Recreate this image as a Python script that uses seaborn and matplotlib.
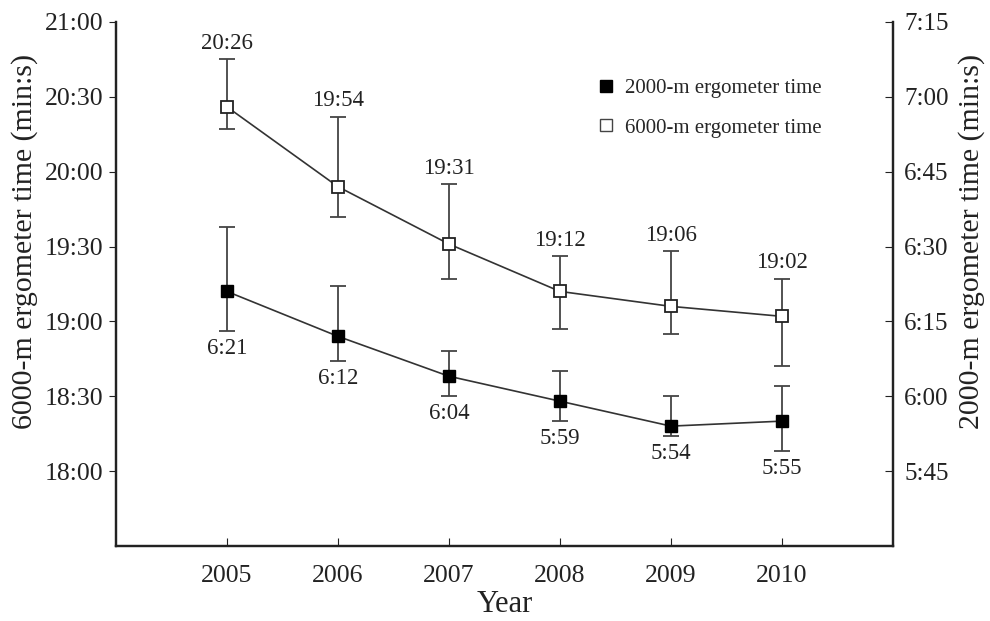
import matplotlib as mpl
import matplotlib.pyplot as plt
import seaborn as sns
import pandas as pd
from matplotlib.lines import Line2D
from matplotlib.ticker import FuncFormatter

sns.set_style("ticks")
plt.rcParams['font.family'] = ['Liberation Serif', 'DejaVu Serif']

# data (times in seconds)
years = [2005, 2006, 2007, 2008, 2009, 2010]
t6000 = [1226, 1194, 1171, 1152, 1146, 1142]
t6000_up = [19, 28, 24, 14, 22, 15]
t6000_dn = [9, 12, 14, 15, 11, 20]
t2000 = [381, 372, 364, 359, 354, 355]
t2000_up = [13, 10, 5, 6, 6, 7]
t2000_dn = [8, 5, 4, 4, 2, 6]


def mmss(s, pos=None):
    s = int(round(s))
    return f"{s // 60}:{s % 60:02d}"


df = pd.DataFrame({"year": years, "t6000": t6000, "t2000": t2000})

fig = plt.figure(figsize=(9.9, 6.21), dpi=100)
ax = fig.add_axes([0.117, 0.121, 0.785, 0.8436])
ax2 = ax.twinx()

ink = "#333333"

# 6000-m on left axis
ax.errorbar(years, t6000, yerr=[t6000_dn, t6000_up], fmt="none", ecolor="#444444",
            elinewidth=1.3, capsize=6, capthick=1.3, zorder=2)
sns.lineplot(data=df, x="year", y="t6000", ax=ax, color=ink, linewidth=1.2,
             marker="s", markersize=9, markerfacecolor="white",
             markeredgecolor="#222222", markeredgewidth=1.3, zorder=3)

# 2000-m on right axis
ax2.errorbar(years, t2000, yerr=[t2000_dn, t2000_up], fmt="none", ecolor="#444444",
             elinewidth=1.3, capsize=6, capthick=1.3, zorder=2)
sns.lineplot(data=df, x="year", y="t2000", ax=ax2, color=ink, linewidth=1.2,
             marker="s", markersize=9, markerfacecolor="black",
             markeredgecolor="black", markeredgewidth=1.0, zorder=3)

# value labels
for x, v, u in zip(years, t6000, t6000_up):
    ax.annotate(mmss(v), (x, v + u), xytext=(0, 4), textcoords="offset points",
                ha="center", va="bottom", fontsize=16.5, color="#222222")
for x, v, d in zip(years, t2000, t2000_dn):
    ax2.annotate(mmss(v), (x, v - d), xytext=(0, -5), textcoords="offset points",
                 ha="center", va="top", fontsize=16.5, color="#222222")

ax.set_xlim(2004, 2011)
ax.set_ylim(1050, 1260)
ax2.set_ylim(330, 435)
ax.set_xticks(years)
ax.set_yticks(range(1080, 1261, 30))
ax2.set_yticks(range(345, 436, 15))
ax.yaxis.set_major_formatter(FuncFormatter(mmss))
ax2.yaxis.set_major_formatter(FuncFormatter(mmss))

ax.set_xlabel("Year", fontsize=22, color="#222222", labelpad=2)
ax.set_ylabel("6000-m ergometer time (min:s)", fontsize=21.5, color="#222222")
ax2.set_ylabel("2000-m ergometer time (min:s)", fontsize=21.5, color="#222222")
ax.yaxis.set_label_coords(-0.1, 0.582)
ax2.yaxis.set_label_coords(1.084, 0.582)

ax.tick_params(axis="x", direction="in", length=6, labelsize=18.5, colors="#222222", pad=14)
ax.tick_params(axis="y", direction="out", length=5, labelsize=18.5, colors="#222222", pad=4)
ax2.tick_params(axis="y", direction="in", length=6, labelsize=18, colors="#222222", pad=8)

for a in (ax, ax2):
    a.spines["top"].set_visible(False)
    for side in ("left", "right", "bottom"):
        a.spines[side].set_linewidth(1.6)
        a.spines[side].set_color("#222222")
    a.grid(False)

handles = [
    Line2D([], [], linestyle="none", marker="s", markersize=9,
           markerfacecolor="black", markeredgecolor="black"),
    Line2D([], [], linestyle="none", marker="s", markersize=9,
           markerfacecolor="white", markeredgecolor="#444444"),
]
ax.legend(handles, ["2000-m ergometer time", "6000-m ergometer time"],
          loc="upper left", bbox_to_anchor=(0.62, 0.892), frameon=False,
          fontsize=15, handlelength=0.8, handletextpad=0.5, labelspacing=0.95,
          borderpad=0, borderaxespad=0)

plt.savefig("out.png", dpi=100)
